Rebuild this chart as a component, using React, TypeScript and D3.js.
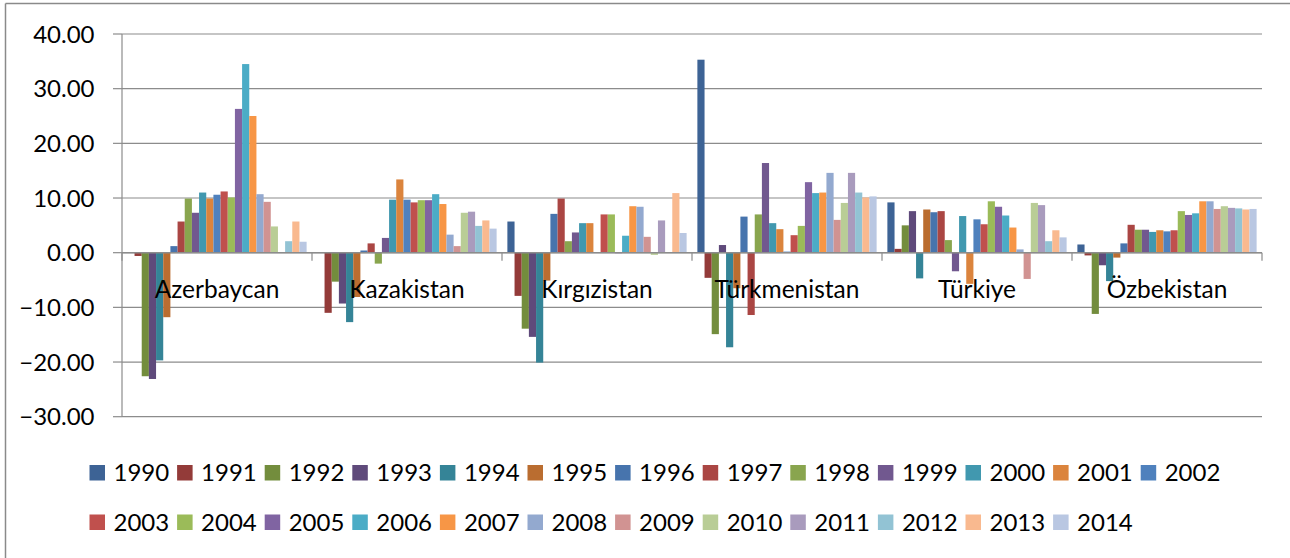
import React from "react";
import * as d3 from "d3";

const countries = ["Azerbaycan", "Kazakistan", "Kırgızistan", "Türkmenistan", "Türkiye", "Özbekistan"];
const years = [
  "1990", "1991", "1992", "1993", "1994", "1995", "1996", "1997", "1998", "1999", "2000", "2001", "2002",
  "2003", "2004", "2005", "2006", "2007", "2008", "2009", "2010", "2011", "2012", "2013", "2014",
];

const azerbaycan = [0, -0.6, -22.6, -23.1, -19.7, -11.8, 1.2, 5.7, 9.9, 7.3, 11.0, 9.9, 10.6, 11.2, 10.1, 26.3, 34.5, 25.0, 10.7, 9.3, 4.8, 0, 2.1, 5.7, 2.0];
const kazakistan = [0, -11.0, -5.3, -9.3, -12.7, -8.1, 0.4, 1.7, -2.0, 2.7, 9.7, 13.4, 9.7, 9.2, 9.6, 9.6, 10.7, 8.9, 3.3, 1.2, 7.3, 7.5, 4.9, 5.9, 4.4];
const kirgizistan = [5.7, -7.9, -13.9, -15.4, -20.1, -5.1, 7.1, 9.9, 2.1, 3.7, 5.4, 5.4, 0, 7.0, 7.0, -0.1, 3.1, 8.5, 8.4, 2.9, -0.4, 5.9, 0, 10.9, 3.6];
const turkmenistan = [35.3, -4.6, -14.9, 1.4, -17.3, -6.5, 6.6, -11.4, 7.0, 16.4, 5.4, 4.3, 0.2, 3.2, 4.9, 12.9, 10.9, 11.0, 14.6, 6.0, 9.1, 14.6, 11.0, 10.1, 10.3];
const turkiye = [9.2, 0.7, 5.0, 7.6, -4.7, 7.9, 7.4, 7.6, 2.3, -3.4, 6.7, -5.7, 6.1, 5.2, 9.4, 8.4, 6.8, 4.6, 0.6, -4.8, 9.1, 8.7, 2.1, 4.1, 2.8];
const ozbekistan = [1.5, -0.5, -11.2, -2.3, -5.2, -0.9, 1.7, 5.1, 4.2, 4.2, 3.8, 4.1, 3.9, 4.1, 7.6, 6.9, 7.2, 9.4, 9.4, 8.0, 8.5, 8.2, 8.1, 7.9, 8.0];

const countryValues = [azerbaycan, kazakistan, kirgizistan, turkmenistan, turkiye, ozbekistan];

const yTicks = [-30, -20, -10, 0, 10, 20, 30, 40];

const colors = [
  "#3D6395", "#933B39", "#738D3D", "#5F4A7B", "#358497", "#BA6D30",
  "#4774AD", "#AA4643", "#89A54E", "#71588F", "#4198AF", "#DB843D",
  "#4F81BD", "#C0504D", "#9BBB59", "#8064A2", "#4BACC6", "#F79646",
  "#93A9CF", "#D19392", "#B9CD96", "#A99BBD", "#92C3D4", "#F9B98F",
  "#B9C7E2",
];

const FONT = "Lato, 'Open Sans', sans-serif";

export default function App() {
  const W = 1290;
  const H = 558;
  const left = 122;
  const right = 1262;
  const top = 34;
  const bottom = 416.7;

  const y = d3.scaleLinear().domain([-30, 40]).range([bottom, top]);
  const x0 = d3.scaleBand<string>().domain(countries).range([left, right]).padding(0);
  const x1 = d3
    .scaleBand<string>()
    .domain(years)
    .range([0, x0.bandwidth()])
    .paddingInner(0)
    .paddingOuter(0.75);
  const color = d3.scaleOrdinal<string, string>().domain(years).range(colors);
  const fmt = d3.format(".2f");
  const y0 = y(0);
  const gridColor = "#8C8C8C";

  const boundaries = countries.map((c) => x0(c) as number).concat([right]);

  const legendX0 = 89.5;
  const legendPitch = 87.6;
  const legendRows = [years.slice(0, 13), years.slice(13)];
  const legendRowY = [472.5, 522];

  return (
    <svg
      width={W}
      height={H}
      style={{ position: "absolute", left: 0, top: 0, background: "#fff" }}
      fontFamily={FONT}
    >
      <rect x={0} y={0} width={W} height={H} fill="#fff" />
      {/* chart border */}
      <line x1={5.5} y1={3.5} x2={5.5} y2={H} stroke="#8A8A8A" strokeWidth={1.5} />
      <line x1={5.5} y1={3.5} x2={W} y2={3.5} stroke="#8A8A8A" strokeWidth={1.5} />

      {/* gridlines */}
      {yTicks.map((t) => (
        <line key={"g" + t} x1={left} x2={right} y1={y(t)} y2={y(t)} stroke={gridColor} strokeWidth={1.2} />
      ))}

      {/* bars */}
      {countries.map((c, ci) => (
        <g key={c} transform={`translate(${x0(c)},0)`}>
          {years.map((yr, yi) => {
            const v = countryValues[ci][yi];
            if (v === 0) return null;
            const yy = v >= 0 ? y(v) : y0;
            const h = Math.abs(y(v) - y0);
            return (
              <rect
                key={yr}
                x={x1(yr)}
                y={yy}
                width={x1.bandwidth()}
                height={h}
                fill={color(yr)}
              />
            );
          })}
        </g>
      ))}

      {/* zero axis line */}
      <line x1={left} x2={right} y1={y0} y2={y0} stroke={gridColor} strokeWidth={1.4} />
      {/* category ticks */}
      {boundaries.map((b, i) => (
        <line key={"ct" + i} x1={b} x2={b} y1={y0} y2={y0 + 8} stroke={gridColor} strokeWidth={1.2} />
      ))}

      {/* y axis */}
      <line x1={left} x2={left} y1={top} y2={bottom} stroke={gridColor} strokeWidth={1.2} />
      {yTicks.map((t) => (
        <g key={"yt" + t}>
          <line x1={left - 9} x2={left} y1={y(t)} y2={y(t)} stroke={gridColor} strokeWidth={1.2} />
          <text x={94.5} y={y(t)} dy="0.36em" textAnchor="end" fontSize={24} fill="#000">
            {fmt(t)}
          </text>
        </g>
      ))}

      {/* category labels */}
      {countries.map((c) => (
        <text
          key={"cl" + c}
          x={(x0(c) as number) + x0.bandwidth() / 2}
          y={y0 + 45}
          textAnchor="middle"
          fontSize={24.5}
          fill="#000"
        >
          {c}
        </text>
      ))}

      {/* legend */}
      {legendRows.map((row, ri) =>
        row.map((yr, i) => {
          const lx = legendX0 + i * legendPitch;
          const cy = legendRowY[ri];
          return (
            <g key={"lg" + yr}>
              <rect x={lx} y={cy - 7.5} width={15.5} height={15.5} fill={color(yr)} />
              <text x={lx + 24} y={cy} dy="0.36em" fontSize={24} fill="#000">
                {yr}
              </text>
            </g>
          );
        })
      )}
    </svg>
  );
}
